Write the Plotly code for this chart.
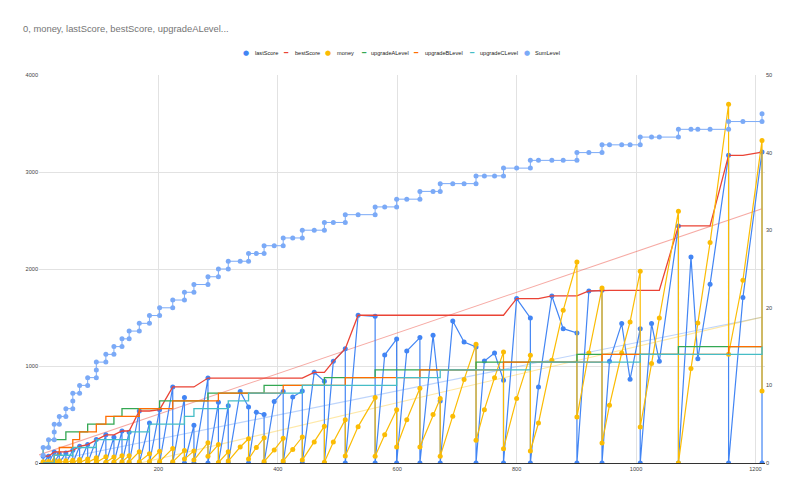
import numpy as np
import plotly.graph_objects as go

# ---------------- data (one entry per logged row) ----------------
x_vals = [7, 7, 16, 16, 25.5, 25.5, 25.5, 34, 34, 45, 45, 56.6, 56.6, 56.6, 68, 68, 81.5, 81.5,
          96, 96, 96, 112, 112, 125.5, 125.5, 139, 139, 151, 151, 168, 168, 185, 185, 202, 202,
          224, 224, 243.6, 243.6, 259.5, 259.5, 283, 283, 300.5, 300.5, 317, 317, 337, 351, 351,
          364, 377, 377, 394, 409, 409, 425, 441, 441, 461, 478, 478, 493, 513, 513, 534.5,
          563, 563, 579, 599, 599, 616, 638, 638, 660, 672, 672, 693, 712, 732, 732, 746, 763,
          778, 778, 800, 823, 823, 836.6, 859, 878, 901, 901, 921, 943, 943, 955.5, 976, 990,
          1007, 1007, 1026, 1039, 1071, 1071, 1092, 1103.5, 1124, 1155, 1155, 1179, 1211, 1211]

last_score = [70, 0, 70, 0, 114, 0, 0, 96, 0, 103, 0, 131, 0, 0, 172, 0, 190, 0,
              241, 0, 0, 290, 0, 265, 0, 330, 0, 318, 0, 536, 0, 412, 0, 550, 0,
              784, 0, 674, 0, 389, 0, 876, 0, 626, 0, 591, 0, 736, 577, 0,
              523, 499, 0, 633, 736, 0, 680, 742, 0, 935, 842, 0, 1048, 1179, 0, 1523,
              1512, 0, 1113, 1278, 0, 1155, 1293, 0, 1317, 640, 0, 1464, 1248, 1196, 0, 1052, 1134,
              853, 0, 1695, 1495, 0, 784, 1722, 1385, 1340, 0, 1773, 1780, 0, 1048, 1437, 863,
              1385, 0, 1437, 1048, 2444, 0, 2124, 1076, 1842, 3172, 0, 1705, 3206, 0]

money = [14, 2, 16, 3, 26, 10, 2, 21, 2, 23, 3, 29, 12, 3, 37, 4, 42, 5,
         53, 25, 6, 64, 8, 61, 10, 76, 12, 76, 10, 117, 14, 96, 16, 120, 15,
         150, 12, 130, 40, 125, 30, 210, 69, 190, 5, 115, 20, 165, 250, 40,
         160, 260, 15, 135, 255, 20, 140, 268, 30, 217, 380, 8, 217, 447, 72, 375,
         674, 69, 292, 548, 165, 445, 770, 165, 500, 664, 69, 481, 860, 1224, 234, 550, 880,
         1145, 148, 664, 1110, 124, 412, 1059, 1574, 2072, 474, 1134, 1804, 206, 595, 1134, 1454,
         1976, 371, 1025, 1495, 2595, 0, 973, 1443, 2272, 3698, 1121, 1884, 3324, 742]

best_score = [70, 70, 70, 70, 114, 114, 114, 114, 114, 114, 114, 131, 131, 131, 172, 172, 190, 190,
              241, 241, 241, 290, 290, 290, 290, 330, 330, 330, 330, 536, 536, 536, 536, 550, 550,
              784, 784, 784, 784, 784, 784, 876, 876, 876, 876, 876, 876, 876, 876, 876,
              876, 876, 876, 876, 876, 876, 876, 876, 876, 935, 935, 935, 1048, 1179, 1179, 1523,
              1523, 1523, 1523, 1523, 1523, 1523, 1523, 1523, 1523, 1523, 1523, 1523, 1523, 1523, 1523, 1523, 1523,
              1523, 1523, 1695, 1695, 1695, 1695, 1722, 1722, 1722, 1722, 1773, 1780, 1780, 1780, 1780, 1780,
              1780, 1780, 1780, 1780, 2444, 2444, 2444, 2444, 2444, 3172, 3172, 3172, 3206, 3206]

level_a = [1, 2, 2, 3, 3, 3, 3, 3, 3, 3, 4, 4, 4, 4, 4, 4, 4, 5,
           5, 5, 5, 5, 5, 5, 6, 6, 7, 7, 7, 7, 7, 7, 7, 7, 8,
           8, 8, 8, 8, 8, 8, 8, 9, 9, 9, 9, 9, 9, 9, 9,
           9, 9, 10, 10, 10, 10, 10, 10, 10, 10, 10, 11, 11, 11, 11, 11,
           11, 12, 12, 12, 12, 12, 12, 12, 12, 12, 12, 12, 12, 12, 13, 13, 13,
           13, 13, 13, 13, 13, 13, 13, 13, 13, 14, 14, 14, 14, 14, 14, 14,
           14, 14, 14, 14, 14, 15, 15, 15, 15, 15, 15, 15, 15, 15]

level_b = [0, 0, 0, 0, 0, 1, 1, 1, 2, 2, 2, 2, 3, 3, 3, 4, 4, 4,
           4, 5, 5, 5, 6, 6, 6, 6, 6, 6, 6, 6, 7, 7, 7, 7, 7,
           7, 8, 8, 8, 8, 8, 8, 8, 8, 9, 9, 9, 9, 9, 9,
           9, 9, 9, 9, 9, 10, 10, 10, 10, 10, 10, 10, 10, 10, 11, 11,
           11, 11, 11, 11, 11, 11, 11, 12, 12, 12, 12, 12, 12, 12, 12, 12, 12,
           12, 13, 13, 13, 13, 13, 13, 13, 13, 13, 13, 13, 14, 14, 14, 14,
           14, 14, 14, 14, 14, 14, 14, 14, 14, 14, 15, 15, 15, 15]

level_c = [0, 0, 0, 0, 0, 0, 1, 1, 1, 1, 1, 1, 1, 2, 2, 2, 2, 2,
           2, 2, 3, 3, 3, 3, 3, 3, 3, 3, 4, 4, 4, 4, 5, 5, 5,
           5, 5, 5, 6, 6, 7, 7, 7, 7, 7, 7, 8, 8, 8, 9,
           9, 9, 9, 9, 9, 9, 9, 9, 10, 10, 10, 10, 10, 10, 10, 10,
           10, 10, 10, 10, 11, 11, 11, 11, 11, 11, 12, 12, 12, 12, 12, 12, 12,
           12, 12, 12, 12, 13, 13, 13, 13, 13, 13, 13, 13, 13, 13, 13, 13,
           13, 14, 14, 14, 14, 14, 14, 14, 14, 14, 14, 14, 14, 15]

sum_level = [1, 2, 2, 3, 3, 4, 5, 5, 6, 6, 7, 7, 8, 9, 9, 10, 10, 11,
             11, 12, 13, 13, 14, 14, 15, 15, 16, 16, 17, 17, 18, 18, 19, 19, 20,
             20, 21, 21, 22, 22, 23, 23, 24, 24, 25, 25, 26, 26, 26, 27,
             27, 27, 28, 28, 28, 29, 29, 29, 30, 30, 30, 31, 31, 31, 32, 32,
             32, 33, 33, 33, 34, 34, 34, 35, 35, 35, 36, 36, 36, 36, 37, 37, 37,
             37, 38, 38, 38, 39, 39, 39, 39, 39, 40, 40, 40, 41, 41, 41, 41,
             41, 42, 42, 42, 42, 43, 43, 43, 43, 43, 44, 44, 44, 45]

x_ticks = [200, 400, 600, 800, 1000, 1200]
y_ticks = [0, 1000, 2000, 3000, 4000]
y2_ticks = [0, 10, 20, 30, 40, 50]
title_text = "0, money, lastScore, bestScore, upgradeALevel..."

names = ["lastScore", "bestScore", "money", "upgradeALevel", "upgradeBLevel", "upgradeCLevel", "SumLevel"]
colors = ["#4285F4", "#EA4335", "#FBBC04", "#34A853", "#FF6D01", "#46BDC6", "#7BAAF7"]

n = len(x_vals)
for arr in (last_score, money, best_score, level_a, level_b, level_c, sum_level):
    assert len(arr) == n, (len(arr), n)

FONT = "Liberation Sans, Arial, sans-serif"
fig = go.Figure()

# linear trendlines (computed from the series)
def add_trend(y, color):
    coef = np.polyfit(x_vals, y, 1)
    xs = np.array([0, max(x_vals)])
    fig.add_trace(go.Scatter(x=xs, y=np.polyval(coef, xs), mode="lines",
                             line=dict(color=color, width=1.1), hoverinfo="skip", showlegend=False))

add_trend(best_score, "rgba(234,67,53,0.45)")
add_trend(last_score, "rgba(66,133,244,0.35)")
add_trend(money, "rgba(251,188,4,0.35)")

fig.add_trace(go.Scatter(x=x_vals, y=last_score, name=names[0], mode="lines+markers",
                         line=dict(color=colors[0], width=1.2), marker=dict(size=5, color=colors[0])))
fig.add_trace(go.Scatter(x=x_vals, y=best_score, name=names[1], mode="lines",
                         line=dict(color=colors[1], width=1.3)))
fig.add_trace(go.Scatter(x=x_vals, y=money, name=names[2], mode="lines+markers",
                         line=dict(color=colors[2], width=1.2), marker=dict(size=5, color=colors[2])))
for lv, nm, c in ((level_a, names[3], colors[3]), (level_b, names[4], colors[4]), (level_c, names[5], colors[5])):
    fig.add_trace(go.Scatter(x=x_vals, y=lv, name=nm, mode="lines", yaxis="y2",
                             line=dict(color=c, width=1.3)))
fig.add_trace(go.Scatter(x=x_vals, y=sum_level, name=names[6], mode="lines+markers", yaxis="y2",
                         line=dict(color=colors[6], width=1), marker=dict(size=5, color=colors[6])))

# plot area in pixels
L, R, T, B = 39, 35, 75, 32
W, H = 800, 495
pw, ph = W - L - R, H - T - B

# legend drawn as text
sym_px = [246, 285.5, 327.7, 363.7, 415.5, 471.5, 527]
txt_px = [252.7, 292.7, 335, 369.3, 422.7, 478, 533]
symbols = ["●", "━", "●", "━", "━", "━", "●"]
leg_y = (H - B - 52.7) / ph
ann = []
for i in range(7):
    ann.append(dict(x=(sym_px[i] - L) / pw, y=leg_y, xref="paper", yref="paper", xanchor="center",
                    yanchor="middle", showarrow=False, text=symbols[i],
                    font=dict(family="DejaVu Sans", size=7, color=colors[i])))
    ann.append(dict(x=(txt_px[i] - L) / pw, y=leg_y, xref="paper", yref="paper", xanchor="left",
                    yanchor="middle", showarrow=False, text=names[i],
                    font=dict(family=FONT, size=5.6, color="#222222")))

fig.update_layout(
    width=W, height=H, margin=dict(l=L, r=R, t=T, b=B),
    paper_bgcolor="white", plot_bgcolor="white", showlegend=False,
    font=dict(family=FONT, size=5.6, color="#444444"),
    title=dict(text=title_text, x=23 / W, xanchor="left", xref="container",
               y=1 - 29 / H, yanchor="middle", font=dict(family=FONT, size=9.4, color="#757575")),
    annotations=ann,
    xaxis=dict(range=[0, 1216], tickvals=x_ticks, showgrid=True, gridcolor="#e2e2e2", gridwidth=1,
               zeroline=False, showline=True, linecolor="#333333", linewidth=1, ticks="",
               tickfont=dict(size=5.6, color="#444444")),
    yaxis=dict(range=[0, 4000], tickvals=y_ticks, showgrid=True, gridcolor="#e2e2e2", gridwidth=1,
               zeroline=False, ticks="", tickfont=dict(size=5.6, color="#444444")),
    yaxis2=dict(range=[0, 50], tickvals=y2_ticks, overlaying="y", side="right", showgrid=False,
                zeroline=False, ticks="", tickfont=dict(size=5.6, color="#444444")),
)

fig.write_html("out.html")
